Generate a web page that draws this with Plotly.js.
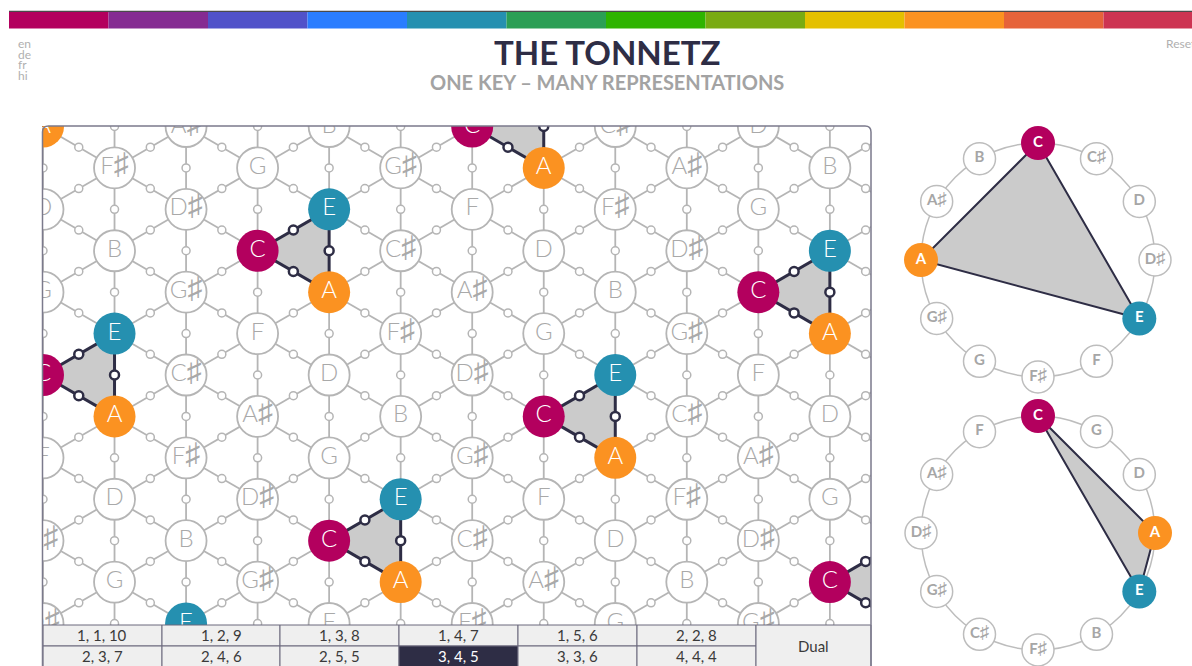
<!DOCTYPE html>
<html><head><meta charset="utf-8">
<script src="https://cdn.plot.ly/plotly-3.0.1.min.js"></script>
<style>html,body{margin:0;padding:0;background:#fff;}#chart{width:1192px;height:666px;}</style>
</head><body><div id="chart"></div>
<script>
// ---------- data ----------
const NOTE_NAMES = ['C','C♯','D','D♯','E','F','F♯','G','G♯','A','A♯','B'];
const NOTE_COLORS = ['#b3005e','#852b92','#5152c9','#2a7dff','#2590b0','#2b9f55','#2eb400','#79ab12','#e4c000','#fb9221','#e6633a','#cd3452'];
const CHORD = [0, 4, 9];                       // C, E, A
const CHROMATIC_ORDER = [0,1,2,3,4,5,6,7,8,9,10,11];
const FIFTHS_ORDER = [0,7,2,9,4,11,6,1,8,3,10,5];
const LATTICE_ORIGIN = 9;                      // pitch of the top-left node (A)
const STEP_U = 4;                              // major third
const STEP_V = 9;                              // minor third down
const TABLE_ROW1 = ['1, 1, 10','1, 2, 9','1, 3, 8','1, 4, 7','1, 5, 6','2, 2, 8'];
const TABLE_ROW2 = ['2, 3, 7','2, 4, 6','2, 5, 5','3, 4, 5','3, 3, 6','4, 4, 4'];
const TABLE_SELECTED = '3, 4, 5';
const TABLE_SIDE = 'Dual';
const LANGS = ['en','de','fr','hi'];
const TITLE = 'THE TONNETZ';
const SUBTITLE = 'ONE KEY – MANY REPRESENTATIONS';
const RESET = 'Reset';

// ---------- layout constants ----------
const W = 1192, H = 666;
const DARK = '#2e2d45', GRAY = '#b5b5b5', LABEL = '#a9a9a9';
const BOX = {l: 42.5, t: 126, r: 871, tableTop: 625, b: 666};
const EX = 82.6, EY = 83.0;          // px per lattice edge unit
const S3 = Math.sqrt(3) / 2;
const px = x => x / W, py = y => 1 - y / H;

const inChord = p => CHORD.indexOf(p) >= 0;
const mod12 = n => ((n % 12) + 12) % 12;
function pitch(i, j) { const u = (i - j) / 2, v = (i + j) / 2; return mod12(LATTICE_ORIGIN + STEP_U * u + STEP_V * v); }
function pos(i, j) { return [i * S3, -j / 2]; }
// enlarge the sharp sign so it matches the letter height
function label(p, sharpSize) { return NOTE_NAMES[p].replace('♯', `<span style="font-size:${sharpSize}px">♯</span>`); }

const traces = [];
const shapes = [];
const annotations = [];

// ---------- lattice ----------
const nodes = [];
for (let i = -1; i <= 13; i++) for (let j = -3; j <= 15; j++) if (mod12(i + j) % 2 === 0) nodes.push([i, j]);

const gEx = [], gEy = [], dEx = [], dEy = [], gMx = [], gMy = [], dMx = [], dMy = [];
nodes.forEach(([i, j]) => {
  [[0, 2], [1, 1], [1, -1]].forEach(([di, dj]) => {
    const a = pos(i, j), b = pos(i + di, j + dj);
    const hl = inChord(pitch(i, j)) && inChord(pitch(i + di, j + dj)) && pitch(i, j) !== pitch(i + di, j + dj);
    const X = hl ? dEx : gEx, Y = hl ? dEy : gEy;
    X.push(a[0], b[0], null); Y.push(a[1], b[1], null);
    (hl ? dMx : gMx).push((a[0] + b[0]) / 2); (hl ? dMy : gMy).push((a[1] + b[1]) / 2);
  });
});
traces.push({x: gEx, y: gEy, mode: 'lines', line: {color: GRAY, width: 1.8}, xaxis: 'x', yaxis: 'y', hoverinfo: 'skip'});

// triangles
nodes.forEach(([i, j]) => {
  const tris = [[[i, j], [i + 1, j - 1], [i + 1, j + 1]], [[i, j], [i, j + 2], [i + 1, j + 1]]];
  tris.forEach(t => {
    const ps = t.map(([a, b]) => pitch(a, b));
    if (ps.every(inChord) && new Set(ps).size === 3) {
      const pts = t.map(([a, b]) => pos(a, b));
      traces.push({x: pts.map(p => p[0]).concat([pts[0][0]]), y: pts.map(p => p[1]).concat([pts[0][1]]),
        mode: 'lines', fill: 'toself', fillcolor: '#cbcbcb', line: {width: 0, color: 'rgba(0,0,0,0)'},
        xaxis: 'x', yaxis: 'y', hoverinfo: 'skip'});
    }
  });
});
traces.push({x: dEx, y: dEy, mode: 'lines', line: {color: DARK, width: 3}, xaxis: 'x', yaxis: 'y', hoverinfo: 'skip'});
traces.push({x: gMx, y: gMy, mode: 'markers', marker: {size: 8, color: '#fff', line: {color: GRAY, width: 1.5}}, xaxis: 'x', yaxis: 'y', hoverinfo: 'skip'});
traces.push({x: dMx, y: dMy, mode: 'markers', marker: {size: 9, color: '#fff', line: {color: DARK, width: 2.5}}, xaxis: 'x', yaxis: 'y', hoverinfo: 'skip'});

const grayN = nodes.filter(([i, j]) => !inChord(pitch(i, j)));
const colN = nodes.filter(([i, j]) => inChord(pitch(i, j)));
traces.push({x: grayN.map(n => pos(...n)[0]), y: grayN.map(n => pos(...n)[1]), text: grayN.map(n => label(pitch(...n), 30)),
  mode: 'markers+text', textposition: 'middle center',
  marker: {size: 41, color: '#fff', line: {color: GRAY, width: 1.8}},
  textfont: {family: 'Lato, sans-serif', size: 24, color: LABEL, weight: 300}, xaxis: 'x', yaxis: 'y', hoverinfo: 'skip'});
traces.push({x: colN.map(n => pos(...n)[0]), y: colN.map(n => pos(...n)[1]), text: colN.map(n => label(pitch(...n), 30)),
  mode: 'markers+text', textposition: 'middle center',
  marker: {size: 42, color: colN.map(n => NOTE_COLORS[pitch(...n)]), line: {width: 0}},
  textfont: {family: 'Lato, sans-serif', size: 24, color: '#fff', weight: 300}, xaxis: 'x', yaxis: 'y', hoverinfo: 'skip'});

// ---------- rings ----------
const RINGS = [{order: CHROMATIC_ORDER, cx: 1038, cy: 260, r: 117}, {order: FIFTHS_ORDER, cx: 1038, cy: 533, r: 117}];
RINGS.forEach(R => {
  shapes.push({type: 'circle', xref: 'x2', yref: 'y2', x0: R.cx - R.r, x1: R.cx + R.r, y0: R.cy - R.r, y1: R.cy + R.r,
    line: {color: '#bdbdbd', width: 1.5}, layer: 'below'});
  const P = R.order.map((p, k) => { const th = k * Math.PI / 6; return [R.cx + R.r * Math.sin(th), R.cy - R.r * Math.cos(th), p]; });
  const tri = P.filter(q => inChord(q[2]));
  traces.push({x: tri.map(q => q[0]).concat([tri[0][0]]), y: tri.map(q => q[1]).concat([tri[0][1]]), mode: 'lines', fill: 'toself',
    fillcolor: '#cbcbcb', line: {color: DARK, width: 2}, xaxis: 'x2', yaxis: 'y2', hoverinfo: 'skip'});
  const g = P.filter(q => !inChord(q[2])), c = P.filter(q => inChord(q[2]));
  traces.push({x: g.map(q => q[0]), y: g.map(q => q[1]), text: g.map(q => label(q[2], 18)), mode: 'markers+text', textposition: 'middle center',
    marker: {size: 32, color: '#fff', line: {color: '#bdbdbd', width: 1.5}},
    textfont: {family: 'Lato, sans-serif', size: 15, color: '#a6a6a6', weight: 'bold'}, xaxis: 'x2', yaxis: 'y2', hoverinfo: 'skip'});
  traces.push({x: c.map(q => q[0]), y: c.map(q => q[1]), text: c.map(q => label(q[2], 18)), mode: 'markers+text', textposition: 'middle center',
    marker: {size: 34, color: c.map(q => NOTE_COLORS[q[2]]), line: {width: 0}},
    textfont: {family: 'Lato, sans-serif', size: 15, color: '#fff', weight: 'bold'}, xaxis: 'x2', yaxis: 'y2', hoverinfo: 'skip'});
});

// ---------- header ----------
shapes.push({type: 'line', xref: 'paper', yref: 'paper', x0: px(9), x1: px(W), y0: py(11.5), y1: py(11.5), line: {color: '#4a4a4a', width: 1.5}});
const SEG = 99.5;
NOTE_COLORS.forEach((c, k) => shapes.push({type: 'rect', xref: 'paper', yref: 'paper', x0: px(9 + k * SEG), x1: px(9 + (k + 1) * SEG),
  y0: py(28.5), y1: py(12), fillcolor: c, line: {width: 0}}));
annotations.push({text: TITLE, xref: 'paper', yref: 'paper', x: px(607), y: py(52), showarrow: false, xanchor: 'center', yanchor: 'middle',
  font: {family: 'Lato, sans-serif', size: 33, color: DARK, weight: 'bold'}});
annotations.push({text: SUBTITLE, xref: 'paper', yref: 'paper', x: px(607), y: py(82), showarrow: false, xanchor: 'center', yanchor: 'middle',
  font: {family: 'Lato, sans-serif', size: 20, color: '#a3a3a3', weight: 'bold'}});
LANGS.forEach((l, k) => annotations.push({text: l, xref: 'paper', yref: 'paper', x: px(16), y: py(43 + k * 11), showarrow: false,
  xanchor: 'left', yanchor: 'middle', font: {family: 'Lato, sans-serif', size: 12, color: '#b0b0b0'}}));
annotations.push({text: RESET, xref: 'paper', yref: 'paper', x: px(1164), y: py(43), showarrow: false, xanchor: 'left', yanchor: 'middle',
  font: {family: 'Lato, sans-serif', size: 12, color: '#b0b0b0'}});

// ---------- table ----------
const COLX = [43, 162, 280, 399, 518, 637, 756, 871];
const ROWY = [625, 646, 667];
[TABLE_ROW1, TABLE_ROW2].forEach((row, r) => row.forEach((t, k) => {
  const sel = t === TABLE_SELECTED;
  shapes.push({type: 'rect', xref: 'paper', yref: 'paper', x0: px(COLX[k]), x1: px(COLX[k + 1]), y0: py(ROWY[r + 1]), y1: py(ROWY[r]),
    fillcolor: sel ? DARK : '#efefef', line: {color: '#6a697c', width: 1}});
  annotations.push({text: t, xref: 'paper', yref: 'paper', x: px((COLX[k] + COLX[k + 1]) / 2), y: py((ROWY[r] + ROWY[r + 1]) / 2 - 0.5),
    showarrow: false, xanchor: 'center', yanchor: 'middle', font: {family: 'Lato, sans-serif', size: 15, color: sel ? '#fff' : '#3a3a3a'}});
}));
shapes.push({type: 'rect', xref: 'paper', yref: 'paper', x0: px(COLX[6]), x1: px(COLX[7]), y0: py(ROWY[2]), y1: py(ROWY[0]),
  fillcolor: '#efefef', line: {color: '#6a697c', width: 1}});
annotations.push({text: TABLE_SIDE, xref: 'paper', yref: 'paper', x: px((COLX[6] + COLX[7]) / 2), y: py(646), showarrow: false,
  xanchor: 'center', yanchor: 'middle', font: {family: 'Lato, sans-serif', size: 15, color: '#3a3a3a'}});

// box border (rounded top corners)
const rad = 6, bl = BOX.l, br = BOX.r, bt = BOX.t, bb = 680;
shapes.push({type: 'path', xref: 'paper', yref: 'paper', line: {color: '#7b7a8c', width: 1.5},
  path: `M ${px(bl)},${py(bb)} L ${px(bl)},${py(bt + rad)} Q ${px(bl)},${py(bt)} ${px(bl + rad)},${py(bt)} L ${px(br - rad)},${py(bt)} Q ${px(br)},${py(bt)} ${px(br)},${py(bt + rad)} L ${px(br)},${py(bb)}`});

// ---------- layout ----------
const layout = {
  width: W, height: H, margin: {l: 0, r: 0, t: 0, b: 0}, showlegend: false,
  paper_bgcolor: '#fff', plot_bgcolor: 'rgba(0,0,0,0)', hovermode: false,
  xaxis: {domain: [px(BOX.l), px(BOX.r)], range: [-(43 - BOX.l) / EX, (BOX.r - 43) / EX], visible: false, fixedrange: true},
  yaxis: {domain: [py(BOX.tableTop), py(BOX.t)], range: [-(BOX.tableTop - 125.5) / EY, (125.5 - BOX.t) / EY * -1], visible: false, fixedrange: true},
  xaxis2: {domain: [px(882), 1], range: [882, W], visible: false, anchor: 'y2', fixedrange: true},
  yaxis2: {domain: [0, 1], range: [H, 0], visible: false, anchor: 'x2', fixedrange: true},
  shapes: shapes, annotations: annotations
};
Plotly.newPlot('chart', traces, layout, {displayModeBar: false, staticPlot: true});
</script></body></html>
